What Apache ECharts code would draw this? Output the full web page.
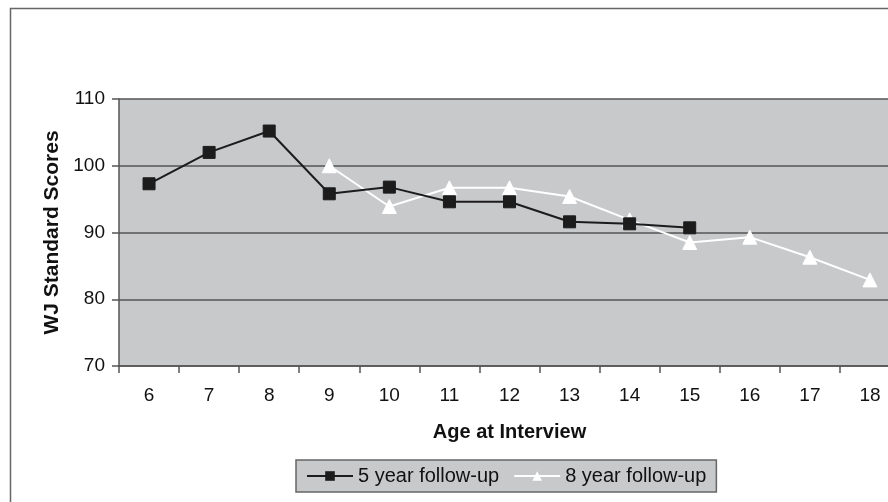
<!DOCTYPE html>
<html>
<head>
<meta charset="utf-8">
<script src="https://cdn.jsdelivr.net/npm/echarts@6/dist/echarts.min.js"></script>
<style>html,body{margin:0;padding:0;background:#fff}#c{width:888px;height:502px}</style>
</head>
<body>
<div id="c"></div>
<script>
const ages = ['6','7','8','9','10','11','12','13','14','15','16','17','18'];
const fiveYear = [97.3, 102.0, 105.2, 95.8, 96.8, 94.6, 94.6, 91.6, 91.3, 90.7, null, null, null];
const eightYear = [null, null, null, 100.0, 93.9, 96.7, 96.7, 95.4, 91.9, 88.5, 89.3, 86.3, 82.9];
const seriesNames = ['5 year follow-up', '8 year follow-up'];
const yTicks = [70, 80, 90, 100, 110];

const font = 'Liberation Sans, Arial, sans-serif';
const chart = echarts.init(document.getElementById('c'), null, {renderer: 'canvas'});
chart.setOption({
  animation: false,
  backgroundColor: '#ffffff',
  textStyle: {fontFamily: font},
  graphic: [{
    type: 'rect', left: 8, top: 6, z: -10,
    shape: {x: 0, y: 0, width: 1000, height: 600},
    style: {fill: 'none', stroke: '#666', lineWidth: 1.5}
  }],
  grid: {left: 119, top: 99, width: 781, height: 267, show: true, backgroundColor: '#c8c9cb', borderWidth: 0,
         outerBoundsMode: 'none', containLabel: false},
  legend: {
    left: 296, top: 460,
    padding: [6, 10, 6, 10],
    backgroundColor: '#c8c9cb', borderColor: '#666', borderWidth: 1.5,
    itemWidth: 46, itemHeight: 12, itemGap: 14,
    textStyle: {fontFamily: font, fontSize: 20, color: '#111'},
    data: seriesNames
  },
  xAxis: {
    type: 'category', data: ages, boundaryGap: true,
    name: 'Age at Interview', nameLocation: 'middle', nameGap: 56,
    nameTextStyle: {fontFamily: font, fontSize: 20, fontWeight: 'bold', color: '#111'},
    axisLine: {lineStyle: {color: '#555', width: 1.5}},
    axisTick: {show: true, length: 7, alignWithLabel: false, lineStyle: {color: '#555', width: 1.5}},
    axisLabel: {fontFamily: font, fontSize: 19, color: '#111', margin: 20},
    splitLine: {show: false}
  },
  yAxis: {
    type: 'value', min: yTicks[0], max: yTicks[yTicks.length - 1], interval: 10,
    name: 'WJ Standard Scores', nameLocation: 'middle', nameGap: 44,
    nameTextStyle: {fontFamily: font, fontSize: 21, fontWeight: 'bold', color: '#111'},
    axisLine: {show: true, lineStyle: {color: '#555', width: 1.5}},
    axisTick: {show: true, length: 7, lineStyle: {color: '#555', width: 1.5}},
    axisLabel: {fontFamily: font, fontSize: 19, color: '#111', margin: 14},
    splitLine: {show: true, lineStyle: {color: '#555', width: 1.5}}
  },
  series: [{
    name: seriesNames[0], type: 'line', data: fiveYear,
    symbol: 'rect', symbolSize: 12, connectNulls: false,
    lineStyle: {color: '#1c1c1c', width: 2},
    itemStyle: {color: '#1c1c1c', borderColor: '#1c1c1c'},
    z: 3
  }, {
    name: seriesNames[1], type: 'line', data: eightYear,
    symbol: 'triangle', symbolSize: 14, connectNulls: false,
    lineStyle: {color: '#ffffff', width: 2},
    itemStyle: {color: '#ffffff', borderColor: '#ffffff'},
    z: 2
  }]
});
</script>
</body>
</html>
